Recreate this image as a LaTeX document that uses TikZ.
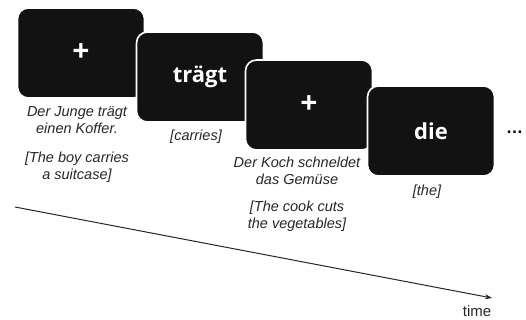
\documentclass[tikz,border=0pt]{standalone}
\usepackage{fontspec}
\setmainfont{Liberation Sans}
\newfontfamily\screenfont{Open Sans}
\usetikzlibrary{positioning, arrows.meta}
\tikzset{
	screen/.style={rectangle, rounded corners=11pt, fill=black!93, draw=white,
		line width=1.6pt, minimum width=127pt, minimum height=90pt, inner sep=0pt,
		text=white, font=\screenfont\bfseries\fontsize{22}{26}\selectfont}
}
\tikzset{
	caption/.style={align=center, inner sep=0pt,
		font=\itshape\fontsize{14.5}{17}\selectfont\color{black!85}}
}
\newcommand{\fixcross}{\fontsize{30}{30}\selectfont +}

\begin{document}
\begin{tikzpicture}[x=1pt, y=-1pt]
      \useasboundingbox (0,0) rectangle (526,320);
      % screens, later ones drawn over earlier ones
      \node[screen] (scr1) at (81,53) {\fixcross};
      \node[screen] (scr2) at (200,77) {trägt};
      \node[screen] (scr3) at (309,105) {\fixcross};
      \node[screen] (scr4) at (431,131) {die};
      \node[font=\bfseries\fontsize{17}{17}\selectfont, anchor=west, inner sep=0pt] (more) at (506,132) {\dots};
      % sentences and glosses
      \node[caption] (de1) at (77,120) {Der Junge trägt\\einen Koffer.};
      \node[caption] (en1) at (77,167) {[The boy carries\\a suitcase]};
      \node[caption] (en2) at (196,137) {[carries]};
      \node[caption] (de3) at (297,171) {Der Koch schneldet\\das Gemüse};
      \node[caption] (en3) at (297,216) {[The cook cuts\\the vegetables]};
      \node[caption] (en4) at (427,192) {[the]};
      % time axis
      \coordinate (t0) at (15,207);
      \coordinate (t1) at (492,298);
      \draw[line width=1pt, black!85, -{Stealth[length=7pt, width=5pt]}] (t0) -- (t1);
      \node[font=\fontsize{15}{15}\selectfont, black!85] (time) at (477,311) {time};
    \end{tikzpicture}
\end{document}
